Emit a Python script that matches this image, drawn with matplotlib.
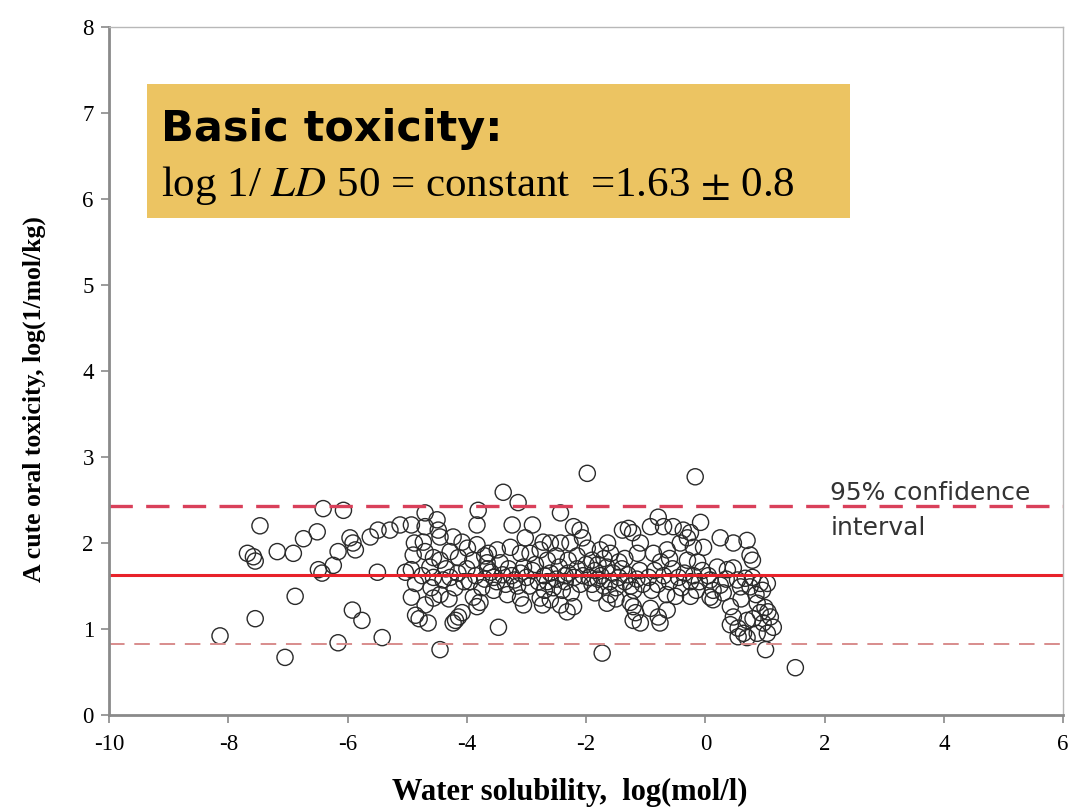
import matplotlib
matplotlib.use("Agg")
import matplotlib.pyplot as plt
from matplotlib.patches import Rectangle

plt.rcParams['axes.unicode_minus'] = False
plt.rcParams['mathtext.fontset'] = 'stix'

# water solubility log(mol/l) and toxicity log(1/mol/kg)
sol = [-8.14, -7.55, -7.68, -7.58, -7.55, -7.18, -6.91, -7.47, -6.74, -6.51,
       -6.41, -6.07, -6.88, -7.05, -6.49, -6.43, -6.24, -6.16, -5.96, -5.91,
       -5.87, -5.62, -5.49, -5.29, -5.12, -5.50, -5.92, -5.76, -6.16, -5.42,
       -5.03,
       -4.93, -4.88, -4.90, -4.93, -4.86, -4.93, -4.86, -4.70, -4.70, -4.50,
       -4.48, -4.45, -4.73, -4.70, -4.56, -4.45, -4.56, -4.40, -4.28, -4.56,
       -4.45, -4.80, -4.65, -4.45, -4.23, -4.08, -4.28, -4.14, -3.99, -3.83,
       -4.19, -4.14, -4.23, -4.08, -4.75, -4.62, -4.35, -4.20, -4.05, -4.60,
       -4.30, -4.70, -4.00, -4.15,
       -3.89, -3.78, -3.83, -3.81, -3.83, -3.64, -3.49, -3.66, -3.44, -3.39,
       -3.14, -3.27, -3.10, -3.24, -3.02, -3.47, -3.32, -3.10, -3.05, -3.85,
       -3.70, -3.60, -3.50, -3.40, -3.30, -3.20, -3.10, -3.00, -3.65, -3.35,
       -3.05, -3.75, -3.55, -3.90, -3.55, -3.25, -3.15, -3.70, -3.95,
       -2.94, -2.77, -2.65, -2.90, -2.72, -2.77, -2.73, -2.90, -2.80, -2.70,
       -2.95, -2.60, -2.43, -2.27, -2.06, -2.43, -2.21, -2.10, -2.60, -2.43,
       -2.32, -2.21, -2.60, -2.50, -2.45, -2.35, -2.30, -2.20, -2.15, -2.10,
       -2.05, -2.55, -2.40, -2.25, -2.65, -2.85, -2.50, -2.30, -2.15, -2.35,
       -2.70, -2.00,
       -1.98, -1.98, -1.64, -1.76, -1.59, -1.39, -1.29, -1.22, -1.09, -1.14,
       -1.26, -1.17, -1.09, -1.73, -1.95, -1.90, -1.85, -1.80, -1.75, -1.70,
       -1.65, -1.60, -1.55, -1.50, -1.45, -1.40, -1.35, -1.30, -1.25, -1.20,
       -1.15, -1.10, -1.05, -1.85, -1.60, -1.45, -1.90, -1.70, -1.35, -1.50,
       -1.65, -1.80, -1.21,
       -0.79, -0.92, -0.70, -0.54, -0.37, -0.30, -0.87, -0.64, -0.42, -0.92,
       -0.79, -0.64, -0.76, -1.21, -0.17, -0.08, -0.25, -0.20, -0.03, -0.30,
       -0.13, -0.95, -0.85, -0.80, -0.70, -0.60, -0.55, -0.45, -0.40, -0.35,
       -0.25, -0.20, -0.15, -0.10, -0.90, -0.65, -0.50, -0.75, -0.60, -0.25,
       -0.05,
       0.25, 0.47, 0.70, 0.75, 0.79, 0.20, 0.37, 0.47, 0.08, 0.25,
       0.13, 0.30, 0.54, 0.67, 0.79, 0.92, 0.59, 0.75, 0.96, 1.04,
       0.08, 0.13, 0.42, 0.47, 0.42, 0.55, 0.70, 0.87, 0.92, 0.97,
       1.09, 1.14, 1.04, 0.87, 0.70, 0.64, 0.55, 1.01, 1.51, 0.05,
       0.35, 0.85, 1.00, 0.60, 0.80, 1.05]
tox = [0.92, 1.12, 1.88, 1.84, 1.79, 1.90, 1.88, 2.20, 2.05, 2.13,
       2.40, 2.38, 1.38, 0.67, 1.69, 1.65, 1.74, 1.90, 2.06, 2.00,
       1.92, 2.07, 2.15, 2.15, 2.21, 1.66, 1.22, 1.10, 0.84, 0.90,
       1.66,
       2.21, 2.00, 1.86, 1.69, 1.53, 1.37, 1.16, 2.35, 2.19, 2.27,
       2.15, 2.07, 2.01, 1.90, 1.83, 1.80, 1.60, 1.57, 1.60, 1.36,
       1.40, 1.12, 1.07, 0.76, 2.07, 2.01, 1.90, 1.83, 1.94, 1.98,
       1.10, 1.14, 1.07, 1.19, 1.62, 1.72, 1.70, 1.48, 1.55, 1.48,
       1.35, 1.28, 1.70, 1.65,
       1.37, 1.31, 1.26, 2.38, 2.21, 1.88, 1.92, 1.77, 1.77, 2.59,
       2.47, 1.95, 1.88, 2.21, 2.06, 1.02, 1.40, 1.36, 1.28, 1.62,
       1.58, 1.66, 1.55, 1.63, 1.70, 1.57, 1.65, 1.60, 1.70, 1.52,
       1.72, 1.48, 1.45, 1.80, 1.60, 1.62, 1.50, 1.85, 1.55,
       1.88, 1.92, 1.80, 2.21, 2.01, 1.36, 1.28, 1.68, 1.55, 1.62,
       1.50, 2.00, 2.00, 2.00, 2.06, 2.35, 2.19, 2.15, 1.34, 1.28,
       1.20, 1.26, 1.65, 1.58, 1.72, 1.55, 1.65, 1.60, 1.70, 1.52,
       1.62, 1.48, 1.45, 1.42, 1.55, 1.75, 1.85, 1.80, 1.85, 1.62,
       1.45, 1.75,
       2.81, 1.94, 2.00, 1.92, 1.88, 2.15, 2.17, 2.12, 2.00, 1.88,
       1.31, 1.19, 1.07, 0.72, 1.60, 1.52, 1.68, 1.58, 1.62, 1.50,
       1.72, 1.55, 1.65, 1.48, 1.60, 1.70, 1.55, 1.63, 1.50, 1.45,
       1.58, 1.68, 1.52, 1.42, 1.40, 1.78, 1.80, 1.82, 1.82, 1.35,
       1.30, 1.75, 1.26,
       2.30, 2.19, 2.19, 2.19, 2.15, 2.06, 1.88, 1.92, 2.00, 1.24,
       1.14, 1.22, 1.07, 1.10, 2.77, 2.24, 2.12, 1.95, 1.95, 1.80,
       1.78, 1.60, 1.68, 1.52, 1.62, 1.55, 1.70, 1.60, 1.48, 1.65,
       1.55, 1.62, 1.45, 1.55, 1.45, 1.40, 1.38, 1.78, 1.82, 1.38,
       1.68,
       2.06, 2.00, 2.03, 1.86, 1.80, 1.72, 1.69, 1.71, 1.57, 1.51,
       1.45, 1.42, 1.57, 1.59, 1.60, 1.53, 1.49, 1.49, 1.45, 1.53,
       1.37, 1.34, 1.26, 1.14, 1.05, 1.01, 1.10, 1.30, 1.19, 1.07,
       1.14, 1.02, 0.95, 0.95, 0.90, 0.95, 0.91, 0.76, 0.55, 1.62,
       1.58, 1.40, 1.25, 1.35, 1.12, 1.20]

mean_tox = 1.63
upper = 2.43
lower = 0.83
xticks = [-10, -8, -6, -4, -2, 0, 2, 4, 6]
yticks = [0, 1, 2, 3, 4, 5, 6, 7, 8]

fig = plt.figure(figsize=(10.7, 8.07), dpi=100)
ax = fig.add_axes([0.102, 0.114, 0.8915, 0.8525])

ax.axhline(upper, color='#d9405a', lw=2.4, dashes=(7, 4))
ax.axhline(mean_tox, color='#e8222a', lw=2.2)
ax.axhline(lower, color='#d88c8c', lw=1.4, dashes=(8, 5))

ax.scatter(sol, tox, s=135, facecolors='none', edgecolors='#2a2a2a', linewidths=1.0)

ax.set_xlim(-10, 6)
ax.set_ylim(0, 8)
ax.set_xticks(xticks)
ax.set_yticks(yticks)
ax.tick_params(direction='out', length=6, width=1.2, color='#8a8a8a',
               labelsize=16.5)
ax.tick_params(axis='x', pad=8)
ax.tick_params(axis='y', pad=5)
for lab in ax.get_xticklabels() + ax.get_yticklabels():
    lab.set_family('Liberation Serif')
for side in ['left', 'bottom']:
    ax.spines[side].set_color('#8a8a8a')
    ax.spines[side].set_linewidth(2)
for side in ['top', 'right']:
    ax.spines[side].set_color('#b8b8b8')
    ax.spines[side].set_linewidth(1)

ax.set_xlabel('Water solubility,  log(mol/l)', family='Liberation Serif',
              fontweight='bold', fontsize=22)
ax.xaxis.set_label_coords(0.483, -0.092)
ax.set_ylabel('A cute oral toxicity, log(1/mol/kg)', family='Liberation Serif',
              fontweight='bold', fontsize=18.5)
ax.yaxis.set_label_coords(-0.066, 0.459)

# highlighted formula box
ax.add_patch(Rectangle((0.04, 0.722), 0.737, 0.195, transform=ax.transAxes,
                       facecolor='#ecc462', edgecolor='none', zorder=3))
ax.text(0.0545, 0.834, 'Basic toxicity:', transform=ax.transAxes,
        fontsize=31, fontweight='bold', family='DejaVu Sans', va='baseline',
        zorder=4)
ax.text(0.0545, 0.755, r'log 1/ $\mathit{LD}$ 50 = constant  =1.63 $\pm$ 0.8',
        transform=ax.transAxes, fontsize=31, family='Liberation Serif',
        va='baseline', zorder=4)

ax.text(0.756, 0.3125, '95% confidence', transform=ax.transAxes,
        fontsize=18, color='#333333', va='baseline')
ax.text(0.756, 0.262, 'interval', transform=ax.transAxes,
        fontsize=18, color='#333333', va='baseline')

plt.savefig('out.png', dpi=100)
